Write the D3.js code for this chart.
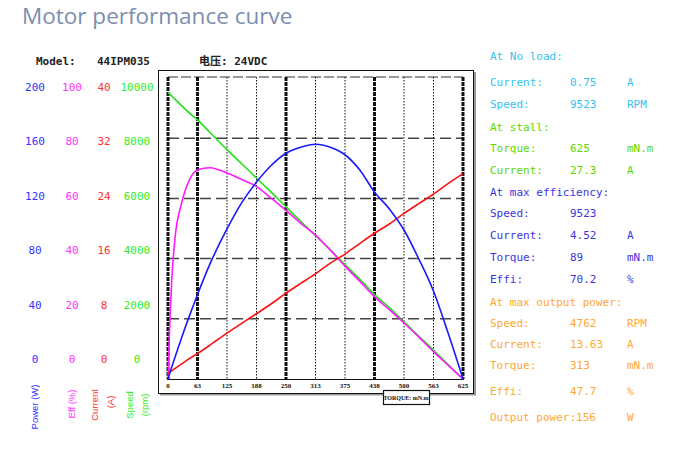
<!DOCTYPE html>
<html>
<head>
<meta charset="utf-8">
<script src="https://cdn.jsdelivr.net/npm/d3@7"></script>
<style>
  body { margin: 0; background: #fff; }
  svg { display: block; }
</style>
</head>
<body>
<div id="chart"></div>
<script>
// torque samples (mN.m) and the curves
var torque  = [0, 1, 3, 8, 15, 29, 45, 63, 89, 125, 156, 188, 219, 250, 281, 313, 344, 375, 406, 438, 469, 500, 531, 563, 594, 625];
var speed   = [9523, 9510, 9480, 9400, 9290, 9080, 8840, 8600, 8190, 7620, 7150, 6670, 6200, 5720, 5240, 4760, 4290, 3800, 3320, 2800, 2370, 1900, 1430, 950, 470, 0];
var current = [0.75, 0.8, 0.9, 1.1, 1.4, 2.0, 2.7, 3.4, 4.5, 6.1, 7.4, 8.7, 10.0, 11.4, 12.7, 14.0, 15.4, 16.6, 18.0, 19.4, 20.6, 22.0, 23.3, 24.6, 26.0, 27.3];
var power   = [0, 1, 3.0, 7.9, 14.6, 27.6, 41.6, 56.5, 76.5, 99.7, 117, 131, 142, 150, 154, 156, 154, 149, 139, 124, 113, 99, 80, 58, 30, 0];
var effi    = [0, 5, 15, 33, 47, 58.5, 66, 69.5, 70.2, 68.4, 66.3, 63.9, 60, 56, 51.8, 47.7, 42.8, 37.5, 32.5, 27.3, 23, 18.6, 14, 9, 4.5, 0];

var torqueTicks  = [0, 62.5, 125, 187.5, 250, 312.5, 375, 437.5, 500, 562.5, 625];
var torqueLabels = ["0", "63", "125", "188", "250", "313", "375", "438", "500", "563", "625"];
var majorTorque  = [0, 62.5, 250, 437.5, 625];
var powerTicks   = [0, 40, 80, 120, 160, 200];
var effTicks     = [0, 20, 40, 60, 80, 100];
var currentTicks = [0, 8, 16, 24, 32, 40];
var speedTicks   = [0, 2000, 4000, 6000, 8000, 10000];

var infoRows = [
  {label: "At No load:", value: "", unit: "", color: "#33c3f0", y: 56},
  {label: "Current:", value: "0.75", unit: "A", color: "#33c3f0", y: 82},
  {label: "Speed:", value: "9523", unit: "RPM", color: "#33c3f0", y: 104},
  {label: "At stall:", value: "", unit: "", color: "#5ed800", y: 127},
  {label: "Torque:", value: "625", unit: "mN.m", color: "#5ed800", y: 148},
  {label: "Current:", value: "27.3", unit: "A", color: "#5ed800", y: 170},
  {label: "At max efficiency:", value: "", unit: "", color: "#3a35e0", y: 192},
  {label: "Speed:", value: "9523", unit: "", color: "#3a35e0", y: 213},
  {label: "Current:", value: "4.52", unit: "A", color: "#3a35e0", y: 235},
  {label: "Torque:", value: "89", unit: "mN.m", color: "#3a35e0", y: 257},
  {label: "Effi:", value: "70.2", unit: "%", color: "#3a35e0", y: 279},
  {label: "At max output power:", value: "", unit: "", color: "#ffa733", y: 302},
  {label: "Speed:", value: "4762", unit: "RPM", color: "#ffa733", y: 323},
  {label: "Current:", value: "13.63", unit: "A", color: "#ffa733", y: 344},
  {label: "Torque:", value: "313", unit: "mN.m", color: "#ffa733", y: 365},
  {label: "Effi:", value: "47.7", unit: "%", color: "#ffa733", y: 391},
  {label: "Output power:156", value: "", unit: "W", color: "#ffa733", y: 417}
];

var W = 683, H = 451;
var mono = "'DejaVu Sans Mono', 'Noto Sans CJK SC', monospace";

var svg = d3.select("#chart").append("svg").attr("width", W).attr("height", H);

svg.append("text").attr("x", 22).attr("y", 24)
  .style("font-family", "'Open Sans', sans-serif").style("font-size", "22.5px")
  .attr("fill", "#7b8eb0").text("Motor performance curve");

svg.append("text").attr("x", 36).attr("y", 65).style("font-family", mono)
  .style("font-size", "11px").style("font-weight", "bold").attr("fill", "#222")
  .text("Model:");
svg.append("text").attr("x", 97).attr("y", 65).style("font-family", mono)
  .style("font-size", "11px").style("font-weight", "bold").attr("fill", "#222")
  .text("44IPM035");
svg.append("text").attr("x", 199).attr("y", 65).style("font-family", mono)
  .style("font-size", "11px").style("font-weight", "bold").attr("fill", "#222")
  .text("电压: 24VDC");

// outer frame with shadow
svg.append("line").attr("x1", 475).attr("x2", 475).attr("y1", 72).attr("y2", 395)
  .attr("stroke", "#999").attr("stroke-width", 2);
svg.append("line").attr("x1", 160).attr("x2", 476).attr("y1", 394.5).attr("y2", 394.5)
  .attr("stroke", "#999").attr("stroke-width", 2);
svg.append("rect").attr("x", 158.5).attr("y", 70.5).attr("width", 315).attr("height", 323)
  .attr("fill", "none").attr("stroke", "#111").attr("stroke-width", 1);

var x = d3.scaleLinear().domain([0, 625]).range([168, 463]);
var ySpeed = d3.scaleLinear().domain([0, 10000]).range([379, 78]);
var yCur = d3.scaleLinear().domain([0, 40]).range([379, 78]);
var yPow = d3.scaleLinear().domain([0, 200]).range([379, 78]);
var yEff = d3.scaleLinear().domain([0, 100]).range([379, 78]);

// grid
svg.append("line").attr("x1", x(0)).attr("x2", x(625)).attr("y1", 77).attr("y2", 77)
  .attr("stroke", "#777").attr("stroke-width", 1.5).attr("stroke-dasharray", "10,3");
svg.selectAll(".hgrid").data(speedTicks.slice(1, 5)).enter().append("line")
  .attr("x1", x(0)).attr("x2", x(625))
  .attr("y1", function(d) { return ySpeed(d); }).attr("y2", function(d) { return ySpeed(d); })
  .attr("stroke", "#444").attr("stroke-width", 1.5).attr("stroke-dasharray", "11,5");
svg.selectAll(".vgrid").data(torqueTicks).enter().append("line")
  .attr("x1", function(d) { return x(d); }).attr("x2", function(d) { return x(d); })
  .attr("y1", 77).attr("y2", 379)
  .attr("stroke", "#111")
  .attr("stroke-width", function(d) { return majorTorque.indexOf(d) >= 0 ? 3 : 1; })
  .attr("stroke-dasharray", function(d) { return majorTorque.indexOf(d) >= 0 ? "4,1" : "1.5,1.5"; });
svg.append("line").attr("x1", x(0) - 1).attr("x2", x(625) + 1).attr("y1", 379.5).attr("y2", 379.5)
  .attr("stroke", "#111").attr("stroke-width", 1);

// x tick labels
svg.selectAll(".xlab").data(torqueTicks).enter().append("text")
  .attr("x", function(d) { return x(d); }).attr("y", 388)
  .attr("text-anchor", "middle")
  .style("font-family", "'Liberation Serif', serif").style("font-size", "7px").style("font-weight", "bold")
  .attr("fill", "#111")
  .text(function(d, i) { return torqueLabels[i]; });

// curves
function curve(vals, y, color) {
  var line = d3.line().x(function(d, i) { return x(torque[i]); }).y(function(d) { return y(d); })
    .curve(d3.curveMonotoneX);
  svg.append("path").datum(vals).attr("d", line).attr("fill", "none")
    .attr("stroke", color).attr("stroke-width", 1.6);
}
curve(speed, ySpeed, "#22e01a");
curve(effi, yEff, "#ff1aff");
curve(current, yCur, "#ff1111");
curve(power, yPow, "#1a1aff");

// torque label box
svg.append("rect").attr("x", 383.5).attr("y", 390.5).attr("width", 46).attr("height", 14)
  .attr("fill", "#fff").attr("stroke", "#111").attr("stroke-width", 1.2);
svg.append("text").attr("x", 406).attr("y", 400).attr("text-anchor", "middle")
  .style("font-family", "'Liberation Serif', serif").style("font-size", "6px").style("font-weight", "bold")
  .attr("fill", "#111").text("TORQUE: mN.m");

// left value columns
var yLab = d3.scaleLinear().domain([0, 5]).range([363, 91]);
var cols = [
  {ticks: powerTicks, cx: 35, color: "#3333ff"},
  {ticks: effTicks, cx: 72, color: "#ff33ff"},
  {ticks: currentTicks, cx: 104, color: "#ff3333"},
  {ticks: speedTicks, cx: 137, color: "#33ee22"}
];
cols.forEach(function(c) {
  svg.selectAll(null).data(c.ticks).enter().append("text")
    .attr("x", c.cx).attr("y", function(d, i) { return yLab(i); })
    .attr("text-anchor", "middle")
    .style("font-family", mono).style("font-size", "11px")
    .attr("fill", c.color).text(function(d) { return d; });
});

var titles = [
  {t: "Power (W)", x: 38, y: 407, color: "#3333ff"},
  {t: "Eff (%)", x: 75, y: 404, color: "#ff33ff"},
  {t: "Current", x: 98, y: 405, color: "#ff3333"},
  {t: "(A)", x: 114, y: 402, color: "#ff3333"},
  {t: "Speed", x: 133, y: 405, color: "#33ee22"},
  {t: "(rpm)", x: 148, y: 405, color: "#33ee22"}
];
svg.selectAll(".atitle").data(titles).enter().append("text")
  .attr("transform", function(d) { return "translate(" + d.x + "," + d.y + ") rotate(-90)"; })
  .attr("text-anchor", "middle")
  .style("font-family", "'Liberation Sans', sans-serif").style("font-size", "9.5px")
  .attr("fill", function(d) { return d.color; }).text(function(d) { return d.t; });

// right info panel
var info = svg.append("g").style("font-family", mono).style("font-size", "11px");
infoRows.forEach(function(r) {
  info.append("text").attr("x", 490).attr("y", r.y + 4).attr("fill", r.color).text(r.label);
  if (r.value) info.append("text").attr("x", 570).attr("y", r.y + 4).attr("fill", r.color).text(r.value);
  if (r.unit) info.append("text").attr("x", 627).attr("y", r.y + 4).attr("fill", r.color).text(r.unit);
});
</script>
</body>
</html>
